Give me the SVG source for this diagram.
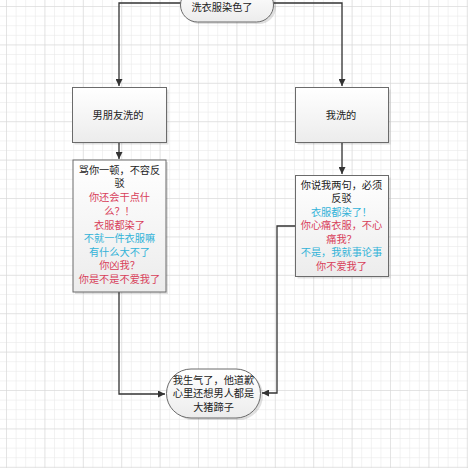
<svg xmlns="http://www.w3.org/2000/svg" width="468" height="468" viewBox="0 0 468 468">
<style>
.t{font-family:"Noto Sans CJK SC","Noto Sans",sans-serif;font-size:10.2px;text-anchor:middle;dominant-baseline:central}
.k{fill:#222}
.r{fill:#d8405a}
.c{fill:#33b3d8}
.box{fill:url(#g);stroke:#6b6b6b;stroke-width:1}
.sh{fill:#000;opacity:0.12}
.ln{fill:none;stroke:#333;stroke-width:1.3}
</style>
<defs>
<pattern id="grid" width="9.6" height="9.6" patternUnits="userSpaceOnUse" x="7" y="7">
<path d="M9.6 0V9.6M0 9.6H9.6" fill="none" stroke="#e6e6e6" stroke-width="1"/>
</pattern>
<pattern id="grid2" width="38.4" height="38.4" patternUnits="userSpaceOnUse" x="7" y="7">
<path d="M38.4 0V38.4M0 38.4H38.4" fill="none" stroke="#d6d6d6" stroke-width="1"/>
</pattern>
<linearGradient id="g" x1="0" y1="0" x2="0" y2="1">
<stop offset="0" stop-color="#ffffff"/>
<stop offset="1" stop-color="#ececec"/>
</linearGradient>
<marker id="a" viewBox="0 0 10 10" refX="10" refY="5" markerWidth="7" markerHeight="7" markerUnits="userSpaceOnUse" orient="auto">
<path d="M0 0L10 5L0 10z" fill="#333"/>
</marker>
</defs>
<rect width="468" height="468" fill="#fff"/>
<rect width="468" height="468" fill="url(#grid)"/>
<rect width="468" height="468" fill="url(#grid2)"/>

<g id="connectors">
<path class="ln" d="M181 3H119V86" marker-end="url(#a)"/>
<path class="ln" d="M273 3H342V86" marker-end="url(#a)"/>
<path class="ln" d="M119 142V159" marker-end="url(#a)"/>
<path class="ln" d="M342 142V174" marker-end="url(#a)"/>
<path class="ln" d="M119 292V394H165" marker-end="url(#a)"/>
<path class="ln" d="M295 226H277V393H262" marker-end="url(#a)"/>
</g>

<g id="start">
<rect class="sh" x="183" y="-10" width="93" height="34" rx="17"/>
<rect class="box" x="180.5" y="-12" width="93" height="34" rx="17"/>
<text class="t k" x="222" y="6">洗衣服染色了</text>
</g>

<g id="bf">
<rect class="sh" x="74.5" y="89.5" width="94" height="55"/>
<rect class="box" x="72.5" y="87.5" width="94" height="55"/>
<text class="t k" x="118" y="114">男朋友洗的</text>
</g>

<g id="me">
<rect class="sh" x="297.5" y="89.5" width="93" height="55"/>
<rect class="box" x="295.5" y="87.5" width="93" height="55"/>
<text class="t k" x="341" y="114">我洗的</text>
</g>

<g id="bf-text">
<rect class="sh" x="75" y="162" width="93" height="132"/>
<rect class="box" x="73" y="160" width="93" height="132"/>
<text class="t k" x="119.5" y="169">骂你一顿，不容反</text>
<text class="t k" x="119.5" y="182.5">驳</text>
<text class="t r" x="119.5" y="196.5">你还会干点什</text>
<text class="t r" x="119.5" y="210">么？！</text>
<text class="t r" x="119.5" y="224">衣服都染了</text>
<text class="t c" x="119.5" y="237.5">不就一件衣服嘛</text>
<text class="t c" x="119.5" y="251">有什么大不了</text>
<text class="t r" x="119.5" y="264.5">你凶我？</text>
<text class="t r" x="119.5" y="278">你是不是不爱我了</text>
</g>

<g id="me-text">
<rect class="sh" x="297.5" y="177.5" width="93" height="101"/>
<rect class="box" x="295.5" y="175.5" width="93" height="101"/>
<text class="t k" x="341.5" y="184">你说我两句，必须</text>
<text class="t k" x="341.5" y="197.5">反驳</text>
<text class="t c" x="341.5" y="211">衣服都染了！</text>
<text class="t r" x="341.5" y="224.5">你心痛衣服，不心</text>
<text class="t r" x="341.5" y="238">痛我？</text>
<text class="t c" x="341.5" y="251.5">不是，我就事论事</text>
<text class="t r" x="341.5" y="265">你不爱我了</text>
</g>

<g id="end">
<rect class="sh" x="169" y="371" width="94" height="49" rx="24.5"/>
<rect class="box" x="166.5" y="369" width="94" height="49" rx="24.5"/>
<text class="t k" x="213.5" y="379">我生气了，他道歉</text>
<text class="t k" x="213.5" y="392.5">心里还想男人都是</text>
<text class="t k" x="213.5" y="406">大猪蹄子</text>
</g>
</svg>
